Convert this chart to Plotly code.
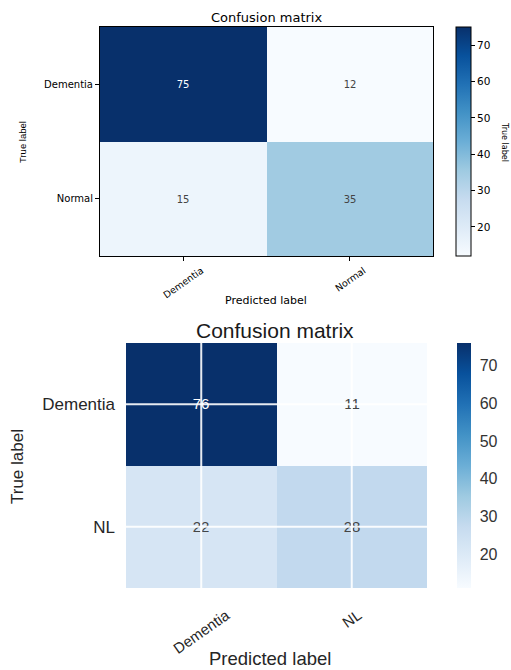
import plotly.graph_objects as go
from plotly.colors import sequential

# Confusion matrix 1 (Dementia vs Normal)
labels_a = ["Dementia", "Normal"]
counts_a = [[75, 12],
            [15, 35]]

# Confusion matrix 2 (Dementia vs NL)
labels_b = ["Dementia", "NL"]
counts_b = [[76, 11],
            [22, 28]]

cbar_ticks = [20, 30, 40, 50, 60, 70]

W, H = 511, 670


def px(x):
    return x / W


def py(y):
    return 1 - y / H


blues = sequential.Blues
dv = "DejaVu Sans"
ar = "Liberation Sans, Arial"

fig = go.Figure()

fig.add_trace(go.Heatmap(
    z=counts_a, x=labels_a, y=labels_a, xaxis="x", yaxis="y",
    coloraxis="coloraxis", texttemplate="%{z}",
    textfont=dict(family=dv, size=10), hoverinfo="skip",
))
fig.add_trace(go.Heatmap(
    z=counts_b, x=labels_b, y=labels_b, xaxis="x2", yaxis="y2",
    coloraxis="coloraxis2", texttemplate="%{z}",
    textfont=dict(family=ar, size=15), hoverinfo="skip",
))

top_axis = dict(showline=True, mirror=True, linecolor="black", linewidth=1,
                ticks="outside", ticklen=4, tickcolor="black",
                showgrid=False, zeroline=False,
                tickfont=dict(family=dv, size=10, color="black"))
bot_axis = dict(showline=False, ticks="", showgrid=False, zeroline=False,
                tickfont=dict(family=ar, size=17, color="#262626"))

fig.update_layout(
    width=W, height=H,
    margin=dict(l=0, r=0, t=0, b=0),
    paper_bgcolor="white", plot_bgcolor="white",
    showlegend=False,
    xaxis=dict(domain=[px(100), px(433)], anchor="y", showticklabels=False,
               **top_axis),
    yaxis=dict(domain=[py(256), py(27)], anchor="x", autorange="reversed",
               **top_axis),
    xaxis2=dict(domain=[px(126), px(427)], anchor="y2", showticklabels=False,
                **bot_axis),
    yaxis2=dict(domain=[py(588), py(343)], anchor="x2", autorange="reversed",
                ticklabelstandoff=10, **bot_axis),
    coloraxis=dict(
        colorscale=blues,
        colorbar=dict(
            x=px(456), xanchor="left", xref="paper", xpad=0, ypad=0,
            y=py(27), yanchor="top", len=229 / H, lenmode="fraction",
            thickness=15, outlinewidth=1, outlinecolor="black",
            ticks="outside", ticklen=4, tickcolor="black",
            tickvals=cbar_ticks,
            tickfont=dict(family=dv, size=10.5, color="black"),
        ),
    ),
    coloraxis2=dict(
        colorscale=blues,
        colorbar=dict(
            x=px(457), xanchor="left", xref="paper", xpad=0, ypad=0,
            y=py(343), yanchor="top", len=245 / H, lenmode="fraction",
            thickness=14, outlinewidth=0,
            ticks="outside", ticklen=6, tickcolor="rgba(0,0,0,0)",
            tickvals=cbar_ticks,
            tickfont=dict(family=ar, size=16, color="#333333"),
        ),
    ),
)

# White grid lines over the second matrix, one through each cell centre
for i, _ in enumerate(labels_b):
    fig.add_shape(type="line", xref="x2", yref="y2 domain",
                  x0=i, x1=i, y0=0, y1=1, layer="above",
                  line=dict(color="rgba(255,255,255,0.9)", width=2))
    fig.add_shape(type="line", xref="x2 domain", yref="y2",
                  x0=0, x1=1, y0=i, y1=i, layer="above",
                  line=dict(color="rgba(255,255,255,0.9)", width=2))

# Rotated predicted-class labels, centred under each column
for i, lab in enumerate(labels_a):
    fig.add_annotation(text=lab, x=i, xref="x", y=py(262), yref="paper",
                       xanchor="center", yanchor="top", showarrow=False,
                       textangle=-35,
                       font=dict(family=dv, size=9.5, color="black"))
for i, lab in enumerate(labels_b):
    fig.add_annotation(text=lab, x=i, xref="x2", y=py(603), yref="paper",
                       xanchor="center", yanchor="top", showarrow=False,
                       textangle=-35,
                       font=dict(family=ar, size=15, color="#262626"))

# Titles and axis labels
texts = [
    ("Confusion matrix", 266, 18, dv, 13, "black", 0),
    ("Predicted label", 266, 300, dv, 11, "black", 0),
    ("True label", 23, 142, ar, 9.5, "black", -90),
    ("True label", 504, 142, dv, 8, "black", 90),
    ("Confusion matrix", 275, 331, ar, 21, "#1a1a1a", 0),
    ("Predicted label", 270, 658, ar, 18.5, "#262626", 0),
    ("True label", 17, 467, ar, 17, "#262626", -90),
]
for t, x, y, fam, size, col, ang in texts:
    fig.add_annotation(text=t, x=px(x), y=py(y), xref="paper", yref="paper",
                       xanchor="center", yanchor="middle", showarrow=False,
                       textangle=ang, font=dict(family=fam, size=size, color=col))

fig.write_html("out.html")
